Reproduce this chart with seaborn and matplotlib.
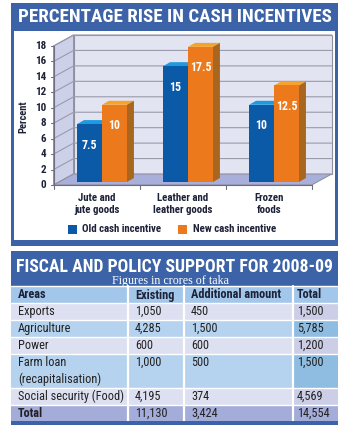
import matplotlib
matplotlib.use('Agg')
import matplotlib.pyplot as plt
import seaborn as sns
import pandas as pd
from matplotlib import font_manager as fm
from matplotlib.patches import Rectangle, Polygon

# ---------------- data ----------------
categories = ["Jute and\njute goods", "Leather and\nleather goods", "Frozen\nfoods"]
series_names = ["Old cash incentive", "New cash incentive"]
old_incentive = [7.5, 15, 10]
new_incentive = [10, 17.5, 12.5]
y_ticks = [0, 2, 4, 6, 8, 10, 12, 14, 16, 18]

chart_title = "PERCENTAGE RISE IN CASH INCENTIVES"
y_label = "Percent"

table_title = "FISCAL AND POLICY SUPPORT FOR 2008-09"
table_subtitle = "Figures in crores of taka"
table_columns = ["Areas", "Existing", "Additional amount", "Total"]
areas = ["Exports", "Agriculture", "Power", "Farm loan\n(recapitalisation)",
         "Social security (Food)", "Total"]
existing = ["1,050", "4,285", "600", "1,000", "4,195", "11,130"]
additional = ["450", "1,500", "600", "500", "374", "3,424"]
totals = ["1,500", "5,785", "1,200", "1,500", "4,569", "14,554"]

# ---------------- fonts ----------------
ttf = fm.fontManager.ttflist
names = {f.name for f in ttf}
cond = dict(family='DejaVu Sans')
for cand in ['Liberation Sans Narrow', 'Roboto Condensed', 'Open Sans Condensed', 'DejaVu Sans Condensed']:
    if cand in names:
        cond = dict(family=cand)
        break
else:
    if any(f.name == 'DejaVu Sans' and f.stretch == 'condensed' for f in ttf):
        cond = dict(family='DejaVu Sans', stretch='condensed')
serif = dict(family='Liberation Serif' if 'Liberation Serif' in names else 'DejaVu Serif')

sns.set_theme(style='white')
plt.rcParams['font.family'] = ['DejaVu Sans']

BLUE_BANNER = '#3c63a7'
DARK = '#1d2238'
OLD = '#0b5aa8'
NEW = '#ec7a1c'
TOP = {OLD: '#1f9ae0', NEW: '#f6a22b'}
SIDE = {OLD: '#073f80', NEW: '#a9661e'}

W, H = 349, 429
fig = plt.figure(figsize=(W / 100, H / 100), dpi=100)
fig.patch.set_facecolor('white')

bg = fig.add_axes([0, 0, 1, 1])
bg.set_xlim(0, W)
bg.set_ylim(H, 0)
bg.axis('off')

# chart panel
bg.add_patch(Rectangle((11, 3), 327, 243, color=BLUE_BANNER, lw=0, zorder=0))
bg.add_patch(Rectangle((14, 31), 321, 209, color='white', lw=0, zorder=1))

renderer = fig.canvas.get_renderer()


def fit(t, target):
    for _ in range(4):
        w = t.get_window_extent(renderer).width
        t.set_fontsize(t.get_fontsize() * target / w)


t1 = bg.text(174.5, 22.5, chart_title, color='white', fontweight='bold', fontsize=15,
             ha='center', va='baseline', zorder=5, **cond)
fit(t1, 315)

bg.text(23, 117, y_label, rotation=90, ha='center', va='center', fontsize=7.6,
        fontweight='bold', color=DARK, zorder=5, **cond)

# ---------------- bar chart ----------------
ax_l, ax_r, ax_base, ax_top = 59, 317, 182, 43
ax = fig.add_axes([ax_l / W, (H - ax_base) / H, (ax_r - ax_l) / W, (ax_base - ax_top) / H])
ax.patch.set_alpha(0)
ax.set_xlim(-0.5, 2.5)
ax.set_ylim(0, 18)
sx = (ax_r - ax_l) / 3.0
sy = (ax_base - ax_top) / 18.0

df = pd.DataFrame({
    'category': categories * 2,
    'series': [series_names[0]] * 3 + [series_names[1]] * 3,
    'value': old_incentive + new_incentive,
})
sns.barplot(data=df, x='category', y='value', hue='series', palette=[OLD, NEW],
            width=0.58, saturation=1, legend=False, ax=ax, zorder=5, linewidth=0)
ax.set_xlim(-0.5, 2.5)
ax.set_ylim(0, 18)
ax.axis('off')

fx, fy = -5.4 / sx, -3.0 / sy      # front plane offset
bx, by = 14.6 / sx, 8.0 / sy       # back plane offset
x0, x1, vmax = -0.5, 2.5, 18


def P(x, v, plane):
    ox, oy = (fx, fy) if plane == 'f' else (bx, by)
    return (x + ox, v + oy)


# back wall
ax.add_patch(Polygon([P(x0, 0, 'b'), P(x1, 0, 'b'), P(x1, vmax, 'b'), P(x0, vmax, 'b')],
                     closed=True, fc='#e2e4f2', ec='#8f90a0', lw=0.8, zorder=0, clip_on=False))
# left wall
ax.add_patch(Polygon([P(x0, 0, 'f'), P(x0, vmax, 'f'), P(x0, vmax, 'b'), P(x0, 0, 'b')],
                     closed=True, fc='#cdd0e9', ec='#8f90a0', lw=0.8, zorder=0, clip_on=False))
for v in y_ticks[1:]:
    xa, ya = P(x0, v, 'f')
    xb, yb = P(x0, v, 'b')
    xc, yc = P(x1, v, 'b')
    ax.plot([xa, xb, xc], [ya, yb, yc], color='#9a9bab', lw=0.8, zorder=1, clip_on=False)
# floor
ax.add_patch(Polygon([P(x0, 0, 'f'), P(x1, 0, 'f'), P(x1, 0, 'b'), P(x0, 0, 'b')],
                     closed=True, fc='#a9afdb', ec='#8f90a0', lw=0.8, zorder=2, clip_on=False))
# axis lines and ticks
xa, ya = P(x0, 0, 'f')
xb, yb = P(x1, 0, 'f')
ax.plot([xa, xa], [P(x0, vmax, 'f')[1], ya - 4 / sy], color='#6d6e80', lw=0.8, zorder=3, clip_on=False)
ax.plot([xa, xb], [ya, yb], color='#6d6e80', lw=0.8, zorder=3, clip_on=False)
for xt in [0.5, 1.5, 2.5]:
    xx, yy = P(xt, 0, 'f')
    ax.plot([xx, xx], [yy, yy - 4 / sy], color='#6d6e80', lw=0.8, zorder=3, clip_on=False)
for v in y_ticks:
    xx, yy = P(x0, v, 'f')
    ax.plot([xx - 3 / sx, xx], [yy, yy], color='#6d6e80', lw=0.8, zorder=3, clip_on=False)
    ax.text(xx - 7 / sx, yy, str(v), ha='right', va='center', fontsize=8, fontweight='bold',
            color=DARK, clip_on=False, **cond)

# 3D tops and sides for bars
dx, dy = 7 / sx, 4 / sy
for p in list(ax.patches):
    if not isinstance(p, Rectangle):
        continue
    fc = matplotlib.colors.to_hex(p.get_facecolor())
    if fc not in TOP:
        continue
    x, w, h = p.get_x(), p.get_width(), p.get_height()
    ax.add_patch(Polygon([(x, h), (x + w, h), (x + w + dx, h + dy), (x + dx, h + dy)],
                         closed=True, fc=TOP[fc], lw=0, zorder=4, clip_on=False))
    ax.add_patch(Polygon([(x + w, 0), (x + w, h), (x + w + dx, h + dy), (x + w + dx, dy)],
                         closed=True, fc=SIDE[fc], lw=0, zorder=4, clip_on=False))
    ax.annotate(f"{h:g}", xy=(x + w / 2, h), xytext=(0, -21 * 0.72), textcoords='offset points',
                ha='center', va='center', color='white', fontsize=8.6, fontweight='bold',
                zorder=7, **cond)

for i, c in enumerate(categories):
    ax.text(i + fx, (ax_base - 204) / sy, c, ha='center', va='center', fontsize=7.8,
            fontweight='bold', color=DARK, linespacing=1.3, clip_on=False, **cond)

# legend
for (lx, tx, col, name) in [(68, 82, OLD, series_names[0]), (178, 193, NEW, series_names[1])]:
    bg.add_patch(Rectangle((lx, 225), 9, 9, color=col, lw=0, zorder=5))
    bg.text(tx, 229.5, name, ha='left', va='center', fontsize=7.8, fontweight='bold',
            color=DARK, zorder=5, **cond)

# ---------------- table ----------------
bg.add_patch(Rectangle((11, 251), 327, 35, color=BLUE_BANNER, lw=0, zorder=1))
t2 = bg.text(174.5, 272, table_title, color='white', fontweight='bold', fontsize=15,
             ha='center', va='baseline', zorder=5, **cond)
fit(t2, 318)
t3 = bg.text(170, 284, table_subtitle, color='white', fontsize=7, ha='center', va='baseline',
             zorder=5, **serif)
fit(t3, 117)

col_edges = [11, 128, 184, 293, 338]
row_edges = [286, 303, 320, 337, 354, 388, 405, 421]
LAV, LAV_T = '#dde0f0', '#cbcee6'
LBL, LBL_T = '#b5d3ee', '#8fbde1'
HEAD = '#a3c7eb'
TOT = '#a4acd9'
row_fill = [(HEAD, HEAD), (LAV, LAV_T), (LBL, LBL_T), (LAV, LAV_T), (LBL, LBL_T), (LAV, LAV_T), (TOT, TOT)]
for r in range(len(row_edges) - 1):
    ya, yb = row_edges[r], row_edges[r + 1]
    main, tcol = row_fill[r]
    bg.add_patch(Rectangle((11, ya), 282, yb - ya, color=main, lw=0, zorder=1))
    bg.add_patch(Rectangle((293, ya), 45, yb - ya, color=tcol, lw=0, zorder=1))
    bg.plot([11, 338], [ya, ya], color='white', lw=1, zorder=2)
for xe in col_edges[1:-1]:
    bg.plot([xe, xe], [286, 421], color='white', lw=1.6, zorder=2)
bg.add_patch(Rectangle((11, 421), 327, 4, color=BLUE_BANNER, lw=0, zorder=2))

text_x = [18, 135, 191, 297]
for j, c in enumerate(table_columns):
    bg.text(text_x[j], 295, c, ha='left', va='center', fontsize=8.8, fontweight='bold',
            color=DARK, zorder=5, **cond)
for i in range(len(areas)):
    ya = row_edges[i + 1]
    yc = ya + 8.5
    bold = 'bold' if areas[i] == 'Total' else 'normal'
    lines = areas[i].split('\n')
    for k, ln in enumerate(lines):
        bg.text(text_x[0], yc + k * 17, ln, ha='left', va='center', fontsize=8.8,
                fontweight=bold, color='#222222', zorder=5, **cond)
    for j, val in enumerate([existing[i], additional[i], totals[i]]):
        bg.text(text_x[j + 1], yc, val, ha='left', va='center', fontsize=8.8,
                color='#222222', zorder=5, **cond)

fig.savefig('out.png', dpi=100)
